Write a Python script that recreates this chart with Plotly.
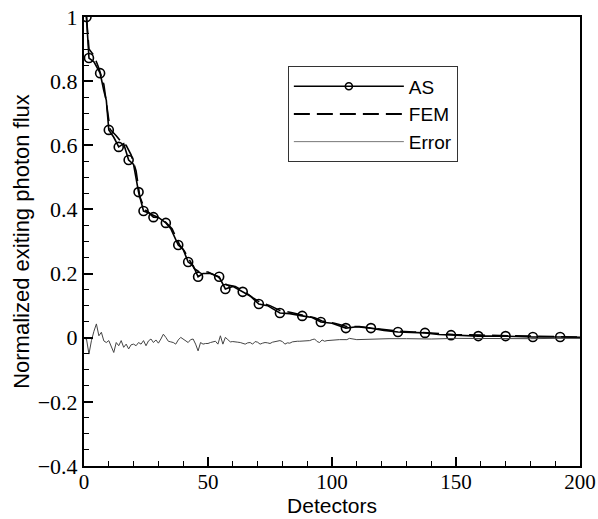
import plotly.graph_objects as go

# AS (analytical solution) line
as_x = [1, 2, 4, 6.5, 8, 9, 10, 12, 14, 16, 18, 20, 22, 24, 26, 28, 30, 33, 35, 38, 40, 42, 44, 46,
        48, 51, 54.5, 57, 60, 64, 67, 70.5, 74, 79, 83, 88, 92, 95.5, 100, 105.6, 110, 115.7, 121,
        126.6, 132, 137.5, 143, 148, 159, 170, 181, 192, 200]
as_y = [1.0, 0.872, 0.86, 0.825, 0.77, 0.74, 0.648, 0.625, 0.595, 0.605, 0.554, 0.54, 0.454, 0.395,
        0.39, 0.376, 0.375, 0.358, 0.34, 0.289, 0.275, 0.236, 0.225, 0.19, 0.2, 0.2, 0.19, 0.152,
        0.16, 0.143, 0.13, 0.105, 0.1, 0.077, 0.075, 0.068, 0.063, 0.049, 0.045, 0.03, 0.034, 0.03,
        0.023, 0.018, 0.017, 0.015, 0.01, 0.008, 0.005, 0.005, 0.002, 0.002, 0.001]

# AS marker positions
asm_x = [1, 2, 6.5, 10, 14, 18, 22, 24, 28, 33, 38, 42, 46, 54.5, 57, 64, 70.5, 79, 88, 95.5,
         105.6, 115.7, 126.6, 137.5, 148, 159, 170, 181, 192]
asm_y = [1.0, 0.872, 0.825, 0.648, 0.595, 0.554, 0.454, 0.395, 0.376, 0.358, 0.289, 0.236, 0.19,
         0.19, 0.152, 0.143, 0.105, 0.077, 0.068, 0.049, 0.03, 0.03, 0.018, 0.015, 0.008, 0.005,
         0.005, 0.002, 0.002]

# FEM line
fem_x = [1, 2, 4, 6, 8, 9.5, 10.5, 13, 15, 17, 19, 21, 22.5, 24.5, 27, 30, 33, 35.5, 38.5, 40.5,
         42.5, 44.5, 46.5, 50, 54, 57.5, 61, 64.5, 68, 71, 75, 79, 84, 88, 93, 96, 101, 106, 111,
         116, 122, 127, 133, 138, 149, 160, 171, 182, 193, 200]
fem_y = [1.0, 0.90, 0.88, 0.84, 0.79, 0.70, 0.65, 0.63, 0.61, 0.60, 0.57, 0.52, 0.44, 0.40, 0.385,
         0.375, 0.36, 0.34, 0.29, 0.27, 0.24, 0.215, 0.205, 0.205, 0.19, 0.165, 0.16, 0.145, 0.125,
         0.11, 0.1, 0.085, 0.078, 0.07, 0.062, 0.052, 0.045, 0.035, 0.035, 0.03, 0.025, 0.02, 0.018,
         0.015, 0.01, 0.008, 0.006, 0.004, 0.003, 0.002]

# Error
err_x = list(range(0, 101)) + [103, 106, 107, 110, 115, 123, 130, 140, 150, 160, 170, 180, 190, 200]
err_y = [-0.002, -0.004, -0.051, -0.009, 0.02, 0.043, 0.006, 0.017, -0.010, -0.015,
         -0.009, -0.030, -0.046, -0.015, -0.025, -0.009, -0.030, -0.020, -0.035, -0.022,
         -0.020, -0.025, -0.015, -0.020, -0.009, -0.025, -0.010, -0.004, -0.015, -0.007,
         -0.017, -0.004, 0.011, 0.001, -0.011, -0.013, -0.015, -0.020, -0.007, 0.001,
         -0.004, -0.009, -0.015, -0.006, -0.004, -0.020, -0.041, -0.015, -0.020, -0.018,
         -0.018, -0.015, -0.013, -0.011, -0.020, 0.006, -0.020, 0.001, -0.006, -0.013,
         -0.012, -0.012, -0.014, -0.015, -0.017, -0.020, -0.016, -0.015, -0.020, -0.012,
         -0.014, -0.020, -0.017, -0.015, -0.016, -0.018, -0.014, -0.012, -0.010, -0.009,
         -0.012, -0.020, -0.016, -0.017, -0.013, -0.011, -0.011, -0.011, -0.011, -0.010,
         -0.009, -0.009, -0.006, -0.004, -0.012, -0.015, -0.007, -0.011, -0.009, -0.008,
         -0.007, -0.006, -0.006, -0.002, -0.006, -0.004, -0.003, -0.003, -0.004, -0.002,
         -0.003, -0.002, -0.003, -0.002, -0.002]

fig = go.Figure()
fig.add_trace(go.Scatter(x=as_x, y=as_y, mode="lines", line=dict(color="black", width=1.6),
                         showlegend=False, hoverinfo="skip"))
fig.add_trace(go.Scatter(x=asm_x, y=asm_y, mode="markers",
                         marker=dict(symbol="circle-open", size=9, color="black", line=dict(width=1.6)),
                         showlegend=False))
fig.add_trace(go.Scatter(x=fem_x, y=fem_y, mode="lines",
                         line=dict(color="black", width=1.6, dash="16px,7px"), showlegend=False))
fig.add_trace(go.Scatter(x=err_x, y=err_y, mode="lines", line=dict(color="#444444", width=1),
                         showlegend=False))
# legend entries
fig.add_trace(go.Scatter(x=[None], y=[None], mode="lines+markers", name="AS",
                         line=dict(color="black", width=1.6),
                         marker=dict(symbol="circle-open", size=7, color="black", line=dict(width=1.6))))
fig.add_trace(go.Scatter(x=[None], y=[None], mode="lines", name="FEM",
                         line=dict(color="black", width=2, dash="16px,7px")))
fig.add_trace(go.Scatter(x=[None], y=[None], mode="lines", name="Error",
                         line=dict(color="#777777", width=1)))

axis_common = dict(showline=True, linecolor="black", linewidth=2, mirror=True, showgrid=False,
                   zeroline=False, ticks="inside", ticklen=9, tickwidth=1.5, tickcolor="black",
                   automargin=False)

fig.update_xaxes(range=[0, 200], dtick=50, tick0=0,
                 minor=dict(dtick=10, ticks="inside", ticklen=5, tickwidth=1.2, tickcolor="black"),
                 tickfont=dict(family="Liberation Serif", size=21, color="black"),
                 ticklabelstandoff=-4,
                 title=dict(text="Detectors", font=dict(family="Liberation Sans", size=21, color="black"),
                            standoff=0),
                 **axis_common)
fig.update_yaxes(range=[-0.4, 1], dtick=0.2, tick0=0,
                 minor=dict(dtick=0.05, ticks="inside", ticklen=5, tickwidth=1.2, tickcolor="black"),
                 tickfont=dict(family="Liberation Serif", size=22, color="black"),
                 title=dict(text="Normalized exiting photon flux",
                            font=dict(family="Liberation Sans", size=22, color="black"), standoff=2),
                 **axis_common)

fig.update_layout(
    width=598, height=519,
    margin=dict(l=84, r=18, t=17, b=53),
    paper_bgcolor="white", plot_bgcolor="white",
    legend=dict(x=0.411, y=0.89, xanchor="left", yanchor="top",
                bordercolor="#333333", borderwidth=1, bgcolor="white",
                font=dict(family="Liberation Sans", size=19, color="black"),
                itemwidth=110, tracegroupgap=0),
)

fig.write_html("out.html")
